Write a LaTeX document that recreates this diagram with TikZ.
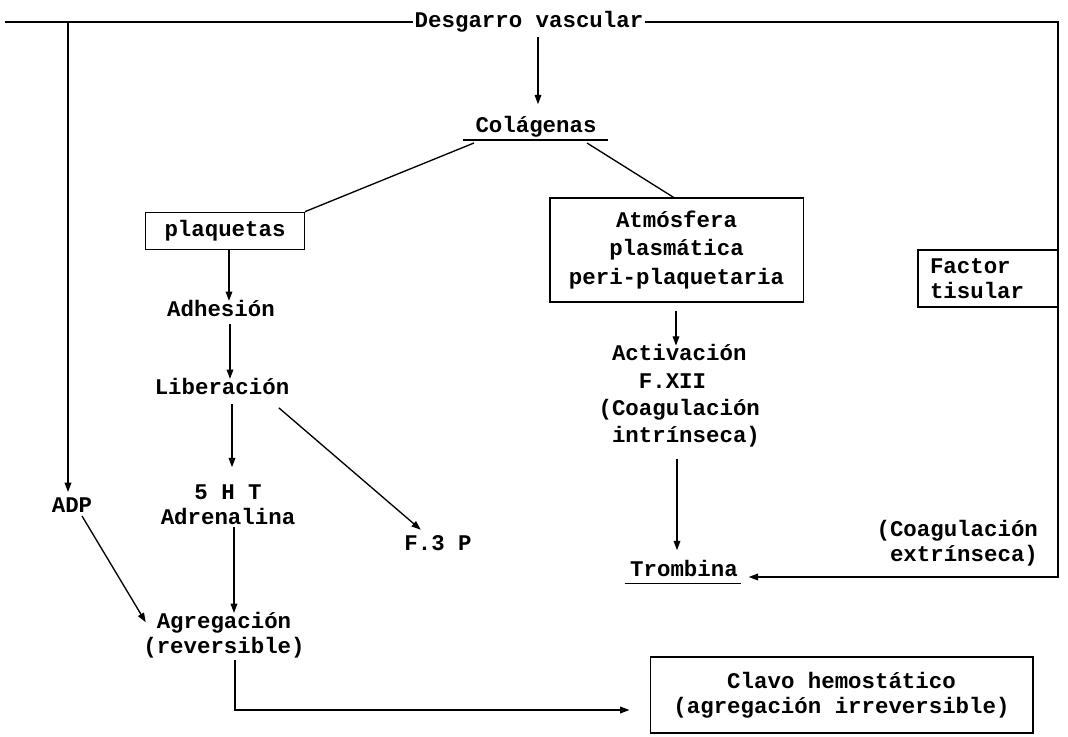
\documentclass[tikz,border=0pt]{standalone}
\usepackage{fontspec}
\newfontfamily\tw{Liberation Mono}
\usetikzlibrary{arrows.meta,calc}
\begin{document}
\begin{tikzpicture}[x=0.75pt,y=-0.75pt,
  txt/.style={font=\tw\bfseries\fontsize{16.8}{19}\selectfont, inner sep=1pt, align=center},
  box/.style={txt, draw, line width=1pt},
  ln/.style={line width=1pt},
  arr/.style={ln, -{Triangle[length=7pt,width=5pt]}}]

% page
\path[fill=white, use as bounding box] (0,0) rectangle (1068,737);

% nodes
\node[txt] (des) at (529,22) {Desgarro vascular};
\node[txt] (col) at (536,127) {Col\'agenas};
\node[box, minimum width=119pt, minimum height=28pt] (plaq) at (225,231) {plaquetas};
\node[txt] (adh) at (221,308) {Adhesi\'on};
\node[txt] (lib) at (222,386) {Liberaci\'on};
\node[txt] (sht) at (228,505) {5 H T\\Adrenalina};
\node[txt] (agr) at (224,635) {Agregaci\'on\\(reversible)};
\node[txt] (adp) at (72,505) {ADP};
\node[txt] (f3) at (438,543) {F.3 P};
\node[box, minimum width=190pt, minimum height=78pt] (atm) at (676.5,250)
  {Atm\'osfera\\[2.5pt]plasm\'atica\\[2.5pt]peri-plaquetaria};
\node[txt, align=left, anchor=west] (act) at (597,396)
  {\hspace*{0.6em}Activaci\'on\\[1.5pt]\hspace*{1.8em}F.XII\\[1.5pt](Coagulaci\'on\\[1.5pt]\hspace*{0.6em}intr\'inseca)};
\node[txt] (trom) at (684,568) {Trombina};
\node[txt, align=left, anchor=west] (ext) at (875,543)
  {(Coagulaci\'on\\\hspace*{0.6em}extr\'inseca)};
\node[box, align=left, text width=87pt, inner xsep=9pt, minimum height=42.75pt] (fac) at (988,278.5)
  {Factor\\tisular};
\node[box, minimum width=287pt, minimum height=57pt] (clavo) at (841.5,695)
  {Clavo hemost\'atico\\(agregaci\'on irreversible)};

% frame points
\coordinate (tl) at (5,22);
\coordinate (tr) at (1058,22);
\coordinate (br) at (1058,577);
\coordinate (adptop) at (68,22);
\coordinate (colL) at (474,143);
\coordinate (colR) at (587,143);
\coordinate (corner) at (235,710);

% underlines
\draw[ln] (463,140) -- (608,140);
\draw[ln] (trom.south west) ++(-4,6) -- ($(trom.south east)+(2,6)$);

% top line and right return
\draw[ln] (tl) -- (tl -| des.west);
\draw[arr, shorten >=7pt] (des.east |- tr) -- (tr) -- (br) -- (br -| trom.east);

% connectors
\draw[arr, shorten >=8pt] (des.south -| 538,0) ++(0,3) -- (col.north -| 538,0);
\draw[ln] (colL) -- (plaq.north east);
\draw[ln] (colR) -- ($(atm.north)+(-3,0)$);
\draw[arr, shorten >=-2pt] (plaq.south -| 229,0) -- (adh.north -| 229,0);
\draw[arr, shorten >=-2pt] (adh.south -| 230,0) ++(0,6) -- (lib.north -| 230,0);
\draw[arr, shorten >=12pt] (lib.south -| 232,0) ++(0,8) -- (sht.north -| 232,0);
\draw[arr] ($(lib.south east)+(-12,12)$) -- ($(f3.north west)+(18,-4)$);
\draw[arr, shorten >=-2pt] (sht.south -| 234,0) -- (agr.north -| 234,0);
\draw[arr, shorten >=3pt] (adptop) -- (adptop |- adp.north);
\draw[arr] ($(adp.south)+(10,2)$) -- ($(agr.north west)+(4,12)$);
\draw[arr, shorten >=15pt] (corner |- agr.south) -- (corner) -- (corner -| clavo.west);
\draw[arr, shorten >=-2pt] (atm.south -| 676,0) ++(0,8) -- (act.north -| 676,0);
\draw[arr, shorten >=6pt] (act.south -| 677,0) ++(0,10) -- (trom.north -| 677,0);

\end{tikzpicture}
\end{document}
